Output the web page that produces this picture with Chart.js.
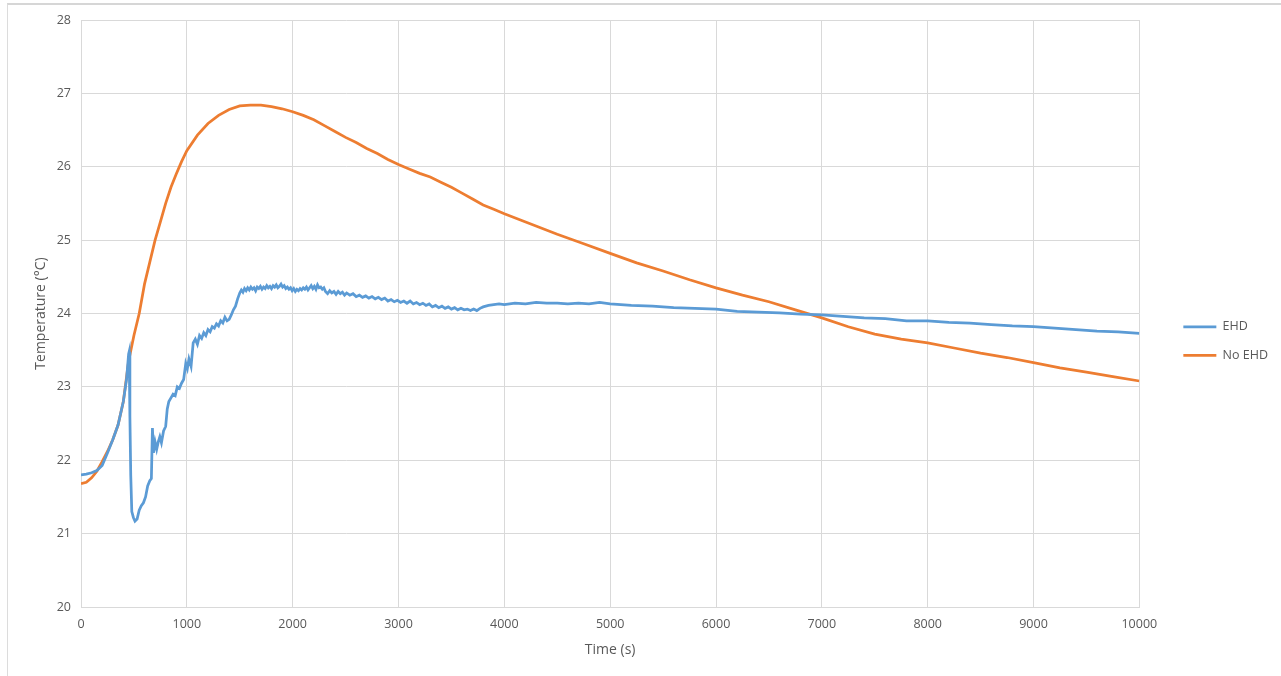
<!DOCTYPE html>
<html>
<head>
<meta charset="utf-8">
<script src="https://cdn.jsdelivr.net/npm/chart.js@4.4.1/dist/chart.umd.min.js"></script>
<style>
  html, body { margin: 0; padding: 0; background: #fff; }
  #wrap { position: relative; width: 1281px; height: 676px; }
  #frame {
    position: absolute; left: 7px; top: 3px; right: -2px; bottom: -2px;
    border-top: 2px solid #d6d6d6; border-left: 1px solid #dcdcdc;
    pointer-events: none;
  }
</style>
</head>
<body>
<div id="wrap">
  <canvas id="temp" width="1281" height="676"></canvas>
  <div id="frame"></div>
</div>
<script>
// logged temperatures, time in seconds
const ehdTime = [
  0, 50, 100, 150, 200, 250, 300, 350, 400, 430, 450, 455, 462, 470, 480, 495, 510, 530, 550, 570,
  590, 610, 630, 650, 665, 675, 685, 700, 715, 730, 745, 760, 780, 800, 815, 830, 850, 870, 890, 910,
  930, 950, 970, 990, 1005, 1020, 1040, 1060, 1080, 1100, 1120, 1140, 1160, 1180, 1200, 1220, 1240, 1260, 1280, 1300,
  1320, 1340, 1360, 1380, 1400, 1420, 1440, 1460, 1480, 1500, 1515, 1530, 1545, 1560, 1575, 1590, 1605, 1620, 1635, 1650,
  1665, 1680, 1695, 1710, 1725, 1740, 1755, 1770, 1785, 1800, 1815, 1830, 1845, 1860, 1875, 1890, 1905, 1920, 1935, 1950,
  1965, 1980, 1995, 2010, 2025, 2040, 2055, 2070, 2085, 2100, 2115, 2130, 2145, 2160, 2175, 2190, 2205, 2220, 2235, 2250,
  2265, 2280, 2295, 2310, 2330, 2350, 2370, 2390, 2410, 2430, 2450, 2470, 2490, 2510, 2540, 2570, 2600, 2630, 2660, 2690,
  2720, 2750, 2780, 2810, 2840, 2870, 2900, 2930, 2960, 2990, 3020, 3050, 3080, 3110, 3140, 3170, 3200, 3230, 3260, 3290,
  3320, 3350, 3380, 3410, 3440, 3470, 3500, 3530, 3560, 3590, 3620, 3650, 3680, 3710, 3740, 3770, 3800, 3850, 3900, 3950,
  4000, 4100, 4200, 4300, 4400, 4500, 4600, 4700, 4800, 4900, 5000, 5200, 5400, 5600, 5800, 6000, 6200, 6400, 6600, 6800,
  7000, 7200, 7400, 7600, 7800, 8000, 8200, 8400, 8600, 8800, 9000, 9200, 9400, 9600, 9800, 10000
];
const ehdTemp = [
  21.80, 21.81, 21.83, 21.86, 21.93, 22.10, 22.28, 22.48, 22.80, 23.10, 23.45, 23.48, 22.60, 21.80, 21.30, 21.22, 21.17, 21.20, 21.32, 21.38,
  21.42, 21.50, 21.65, 21.72, 21.75, 22.44, 22.10, 22.25, 22.15, 22.25, 22.32, 22.24, 22.40, 22.46, 22.70, 22.80, 22.85, 22.90, 22.88, 23.00,
  22.98, 23.05, 23.10, 23.32, 23.25, 23.38, 23.28, 23.60, 23.65, 23.58, 23.70, 23.66, 23.74, 23.70, 23.78, 23.75, 23.82, 23.80, 23.86, 23.83,
  23.90, 23.87, 23.95, 23.90, 23.92, 23.98, 24.05, 24.10, 24.20, 24.28, 24.32, 24.29, 24.34, 24.31, 24.35, 24.32, 24.36, 24.33, 24.35, 24.31,
  24.36, 24.34, 24.37, 24.33, 24.36, 24.34, 24.38, 24.35, 24.37, 24.34, 24.38, 24.36, 24.39, 24.35, 24.37, 24.40, 24.36, 24.38, 24.34, 24.36,
  24.33, 24.35, 24.31, 24.34, 24.30, 24.33, 24.31, 24.34, 24.32, 24.35, 24.33, 24.36, 24.32, 24.35, 24.38, 24.34, 24.37, 24.33, 24.39, 24.35,
  24.36, 24.33, 24.35, 24.30, 24.27, 24.31, 24.28, 24.30, 24.26, 24.30, 24.27, 24.29, 24.25, 24.28, 24.25, 24.27, 24.23, 24.25, 24.22, 24.24,
  24.21, 24.23, 24.20, 24.22, 24.19, 24.21, 24.17, 24.19, 24.16, 24.18, 24.15, 24.17, 24.14, 24.17, 24.13, 24.15, 24.12, 24.14, 24.11, 24.13,
  24.09, 24.11, 24.08, 24.10, 24.07, 24.09, 24.06, 24.08, 24.05, 24.07, 24.05, 24.06, 24.04, 24.06, 24.04, 24.07, 24.09, 24.11, 24.12, 24.13,
  24.12, 24.14, 24.13, 24.15, 24.14, 24.14, 24.13, 24.14, 24.13, 24.15, 24.13, 24.11, 24.10, 24.08, 24.07, 24.06, 24.03, 24.02, 24.01, 23.99,
  23.98, 23.96, 23.94, 23.93, 23.90, 23.90, 23.88, 23.87, 23.85, 23.83, 23.82, 23.80, 23.78, 23.76, 23.75, 23.73
];

const noEhdTime = [
  0, 50, 100, 150, 200, 250, 300, 350, 400, 450, 500, 550, 600, 650, 700, 750, 800, 850, 900, 950,
  1000, 1100, 1200, 1300, 1400, 1500, 1600, 1700, 1800, 1900, 2000, 2100, 2200, 2300, 2400, 2500, 2600, 2700, 2800, 2900,
  3000, 3100, 3200, 3300, 3400, 3500, 3600, 3700, 3800, 3900, 4000, 4250, 4500, 4750, 5000, 5250, 5500, 5750, 6000, 6250,
  6500, 6750, 7000, 7250, 7500, 7750, 8000, 8250, 8500, 8750, 9000, 9250, 9500, 9750, 10000
];
const noEhdTemp = [
  21.68, 21.70, 21.76, 21.85, 21.98, 22.12, 22.28, 22.48, 22.80, 23.35, 23.70, 24.00, 24.40, 24.70, 25.00, 25.25, 25.50, 25.72, 25.90, 26.07,
  26.22, 26.43, 26.59, 26.70, 26.78, 26.83, 26.84, 26.84, 26.82, 26.79, 26.75, 26.70, 26.64, 26.56, 26.48, 26.40, 26.33, 26.25, 26.18, 26.10,
  26.03, 25.97, 25.91, 25.86, 25.79, 25.72, 25.64, 25.56, 25.48, 25.42, 25.36, 25.22, 25.08, 24.95, 24.82, 24.69, 24.58, 24.46, 24.35, 24.25,
  24.16, 24.05, 23.94, 23.82, 23.72, 23.65, 23.60, 23.53, 23.46, 23.40, 23.33, 23.26, 23.20, 23.14, 23.08
];

const seriesNames = ['EHD', 'No EHD'];
const seriesColors = ['#5b9bd5', '#ed7d31'];

const toPoints = (xs, ys) => xs.map((x, i) => ({x: x, y: ys[i]}));

const gridGray = '#d9d9d9';
const textGray = '#595959';
const family = "'Open Sans', 'Liberation Sans', sans-serif";
const tickFont = {family: family, size: 12.5};
const titleFont = {family: family, size: 14};

function lineSet(i, xs, ys) {
  return {
    label: seriesNames[i],
    data: toPoints(xs, ys),
    borderColor: seriesColors[i],
    backgroundColor: seriesColors[i],
    borderWidth: 2.75,
    pointRadius: 0,
    tension: 0,
    fill: false
  };
}

// push the legend entries away from the plot edge
const legendShift = {
  id: 'legendShift',
  afterLayout(chart) {
    chart.legend.left += 28;
    chart.legend.right += 28;
  }
};

new Chart(document.getElementById('temp'), {
  type: 'line',
  data: {
    datasets: [
      lineSet(0, ehdTime, ehdTemp),
      lineSet(1, noEhdTime, noEhdTemp)
    ]
  },
  plugins: [legendShift],
  options: {
    responsive: false,
    animation: false,
    layout: {padding: {left: 33, top: 20, right: 31, bottom: 14}},
    plugins: {
      tooltip: {enabled: false},
      legend: {
        position: 'right',
        align: 'center',
        labels: {
          usePointStyle: true,
          pointStyle: 'line',
          pointStyleWidth: 33,
          padding: 16,
          color: textGray,
          font: tickFont
        }
      }
    },
    scales: {
      x: {
        type: 'linear',
        min: 0,
        max: 10000,
        afterFit: scale => { scale.height = 55; },
        ticks: {stepSize: 1000, color: textGray, font: tickFont, padding: 10, maxRotation: 0,
          callback: v => String(v)},
        grid: {color: gridGray, drawTicks: false},
        border: {color: gridGray},
        title: {display: true, text: 'Time (s)', color: textGray, font: titleFont, padding: 4}
      },
      y: {
        min: 20,
        max: 28,
        afterFit: scale => { scale.width = 48; },
        ticks: {stepSize: 1, color: textGray, font: tickFont, padding: 10},
        grid: {color: gridGray, drawTicks: false},
        border: {color: gridGray},
        title: {display: true, text: 'Temperature (°C)', color: textGray, font: titleFont, padding: 0}
      }
    }
  }
});
</script>
</body>
</html>
